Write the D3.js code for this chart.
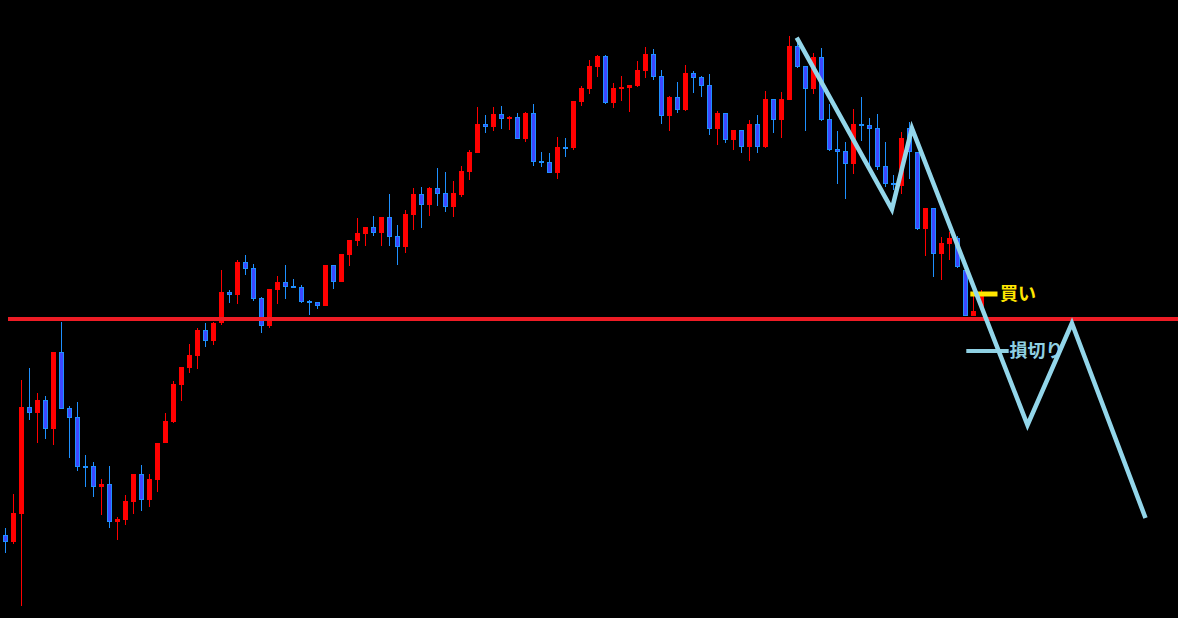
<!DOCTYPE html>
<html><head><meta charset="utf-8">
<script src="https://cdn.jsdelivr.net/npm/d3@7"></script>
<style>html,body{margin:0;padding:0;background:#000;}svg{display:block;}</style>
</head><body>
<svg id="chart" width="1178" height="618"></svg>
<script>
// OHLC data (price units), one candle per bar index
const opens  = [85,78,106,213,207,220,191,268,212,203,154,154,133,136,98,100,118,146,120,140,177,198,235,252,264,290,279,297,328,325,358,352,322,294,330,338,334,333,319,318,314,355,338,365,379,386,393,387,403,384,373,405,426,415,432,427,413,425,448,467,496,493,506,501,503,481,507,459,458,447,473,472,518,531,553,564,517,531,532,534,549,566,544,504,523,510,547,543,535,491,507,480,490,473,496,473,521,500,520,574,554,531,563,501,471,469,456,496,495,492,454,437,434,492,468,391,412,366,376,382,350,304,313];
const highs  = [92,126,240,252,227,224,268,298,214,218,165,158,141,154,103,125,146,155,146,177,207,239,253,276,292,297,298,350,330,360,365,356,323,331,344,355,341,335,320,318,355,355,366,380,402,393,404,403,426,395,410,432,433,433,452,448,439,454,470,513,505,513,514,504,507,508,516,468,467,483,482,519,534,560,565,565,537,544,535,559,573,571,550,524,538,555,549,544,546,509,507,490,490,500,505,529,521,528,584,578,554,567,572,516,489,478,511,523,502,506,478,445,488,498,468,412,412,383,388,384,353,327,330];
const lows   = [67,76,14,200,177,181,175,211,162,149,133,123,105,92,80,95,106,109,113,128,177,197,219,247,251,273,275,295,317,316,345,319,287,292,316,321,332,317,305,311,314,331,338,354,374,374,384,374,374,355,367,390,392,404,414,408,403,423,440,467,487,489,491,490,481,478,454,453,447,441,463,470,514,526,543,516,512,519,508,533,542,540,496,489,507,509,527,523,485,475,477,470,467,459,467,472,487,482,520,552,489,526,499,469,436,421,446,479,447,450,433,430,426,441,390,364,343,340,360,352,304,304,313];
const closes = [78,107,213,207,220,191,268,211,202,153,153,133,136,98,101,119,146,120,141,177,199,236,253,265,290,279,297,328,325,358,351,321,294,331,338,333,332,318,317,314,355,338,366,380,387,393,387,403,383,373,406,426,415,432,426,413,427,449,468,496,493,506,501,503,481,507,458,457,447,473,472,519,532,554,564,517,532,533,535,550,566,543,504,523,510,547,542,534,491,507,480,490,473,496,473,521,500,521,574,553,531,563,500,470,468,456,496,494,491,453,436,435,482,468,391,412,366,377,382,353,304,309,324];

// Support line price
const supportPrice = 301;
// Projected zigzag path: [bar index, price]
const zigzagIdx   = [98.9, 110.8, 113.3, 127.75, 133.3, 142.5];
const zigzagPrice = [582.3, 410.7, 491.7, 195, 296.7, 102];
// Annotations
const labelTexts  = ["買い", "損切り"];
const labelPrices = [326, 269];
const labelLineIdx = [[120.6, 124.0], [120.1, 125.4]];
const labelTextIdx = [124.3, 125.5];

const W = 1178, H = 618;
const svg = d3.select("#chart");
svg.append("rect").attr("width", W).attr("height", H).attr("fill", "#000");

const x = d3.scaleLinear().domain([0, 1]).range([5.5, 13.5]);
const y = d3.scaleLinear().domain([0, 620]).range([620, 0]);

const candles = opens.map((o, i) => ({i, o, h: highs[i], l: lows[i], c: closes[i]}));

const RED = "#ff0000", BLUE_FILL = "#3d48ff", BLUE_EDGE = "#1e90ff";

const g = svg.append("g");
// wicks
g.selectAll("line.wick").data(candles).join("line")
  .attr("class", "wick")
  .attr("x1", d => x(d.i)).attr("x2", d => x(d.i))
  .attr("y1", d => y(d.h)).attr("y2", d => y(d.l))
  .attr("stroke", d => d.c >= d.o ? RED : BLUE_EDGE)
  .attr("stroke-width", 1);
// bodies
g.selectAll("rect.body").data(candles).join("rect")
  .attr("class", "body")
  .each(function(d) {
    const top = y(Math.max(d.o, d.c));
    const h = Math.max(1.5, Math.abs(y(d.o) - y(d.c)));
    const s = d3.select(this);
    if (d.c >= d.o) {
      s.attr("x", x(d.i) - 2.5).attr("y", top).attr("width", 5).attr("height", h)
       .attr("fill", RED);
    } else {
      s.attr("x", x(d.i) - 2).attr("y", top + 0.5).attr("width", 4).attr("height", Math.max(1, h - 1))
       .attr("fill", BLUE_FILL).attr("stroke", BLUE_EDGE).attr("stroke-width", 1);
    }
  });

// support line
svg.append("line")
  .attr("x1", 8).attr("x2", W)
  .attr("y1", y(supportPrice)).attr("y2", y(supportPrice))
  .attr("stroke", "#ee1c25").attr("stroke-width", 4);

// annotation lines + texts
const LABEL_COLORS = ["#ffe600", "#8fd0e3"];
labelTexts.forEach((t, k) => {
  svg.append("line")
    .attr("x1", x(labelLineIdx[k][0])).attr("x2", x(labelLineIdx[k][1]))
    .attr("y1", y(labelPrices[k])).attr("y2", y(labelPrices[k]))
    .attr("stroke", LABEL_COLORS[k]).attr("stroke-width", k === 0 ? 5 : 4);
  svg.append("text")
    .attr("x", x(labelTextIdx[k])).attr("y", y(labelPrices[k]))
    .attr("dy", "0.36em")
    .attr("font-family", "'Noto Sans CJK JP', sans-serif")
    .attr("font-weight", "bold").attr("font-size", 18)
    .attr("fill", LABEL_COLORS[k])
    .text(t);
});

// zigzag projection
const zz = zigzagIdx.map((v, i) => [v, zigzagPrice[i]]);
svg.append("path")
  .attr("d", d3.line().x(d => x(d[0])).y(d => y(d[1]))(zz))
  .attr("fill", "none").attr("stroke", "#93d6ea")
  .attr("stroke-width", 4.5).attr("stroke-linejoin", "miter");
</script>
</body></html>
